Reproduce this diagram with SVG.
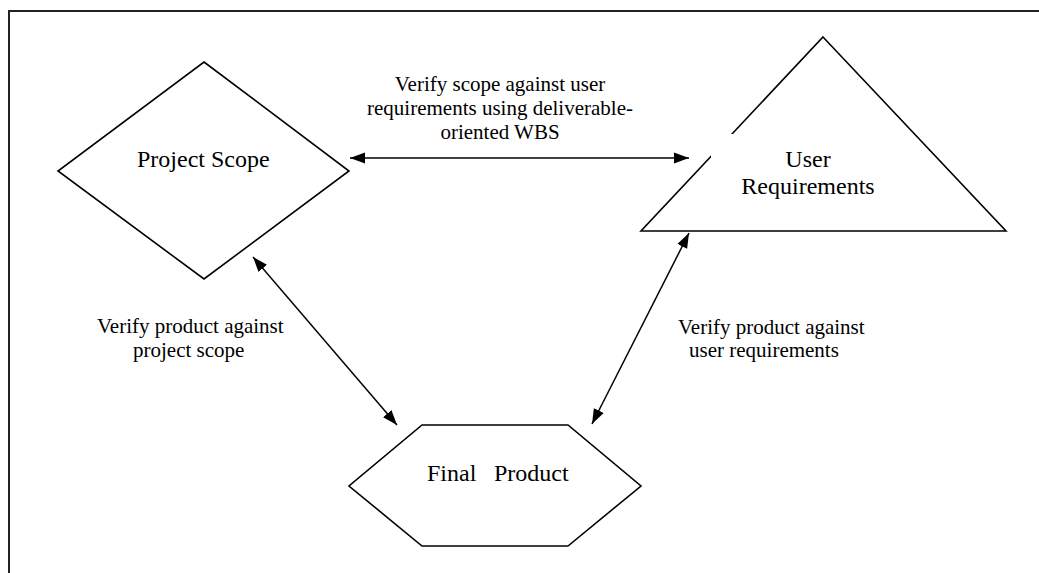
<svg xmlns="http://www.w3.org/2000/svg" width="1039" height="573" viewBox="0 0 1039 573">
  <style>
    .shape { fill: #ffffff; stroke: #000000; stroke-width: 1.6; }
    .conn { stroke: #000000; stroke-width: 1.5; fill: none; marker-start: url(#ah); marker-end: url(#ah); }
    .node-text { font-family: "Liberation Serif", "Times New Roman", serif; font-size: 24px; fill: #000000; }
    .label { font-family: "Liberation Serif", "Times New Roman", serif; font-size: 21px; fill: #000000; }
  </style>
  <defs>
    <marker id="ah" markerUnits="userSpaceOnUse" markerWidth="16" markerHeight="12" viewBox="0 0 16 12" refX="15" refY="6" orient="auto-start-reverse">
      <path d="M0,0.5 L15,6 L0,11.5 z" fill="#000000"/>
    </marker>
  </defs>
  <rect x="0" y="0" width="1039" height="573" fill="#ffffff"/>
  <path d="M9,573 V11 H1039" fill="none" stroke="#222222" stroke-width="2"/>

  <g id="connectors">
    <line class="conn" x1="350" y1="158" x2="689" y2="158"/>
    <line class="conn" x1="253" y1="257" x2="397" y2="425"/>
    <line class="conn" x1="689" y1="233" x2="592" y2="424"/>
  </g>

  <g id="node-project-scope">
    <polygon class="shape" points="204,62 349,171 204,279 58,171"/>
    <text class="node-text" x="137" y="167">Project Scope</text>
  </g>

  <g id="node-user-requirements">
    <polygon class="shape" points="823,37 1006,231 641,231"/>
    <rect x="711" y="134" width="180" height="70" fill="#ffffff"/>
    <text class="node-text" x="808" y="167" text-anchor="middle">User</text>
    <text class="node-text" x="808" y="194" text-anchor="middle">Requirements</text>
  </g>

  <g id="node-final-product">
    <polygon class="shape" points="422,425 568,425 641,486 568,546 422,546 349,486"/>
    <text class="node-text" y="481"><tspan x="427">Final</tspan><tspan x="494">Product</tspan></text>
  </g>

  <g id="label-scope-requirements">
    <text class="label" x="500" y="91" text-anchor="middle">Verify scope against user</text>
    <text class="label" x="500" y="115" text-anchor="middle">requirements using deliverable-</text>
    <text class="label" x="500" y="139" text-anchor="middle">oriented WBS</text>
  </g>

  <g id="label-product-scope">
    <text class="label" x="97" y="333">Verify product against</text>
    <text class="label" x="133" y="357">project scope</text>
  </g>

  <g id="label-product-requirements">
    <text class="label" x="678" y="334">Verify product against</text>
    <text class="label" x="689" y="357">user requirements</text>
  </g>
</svg>
